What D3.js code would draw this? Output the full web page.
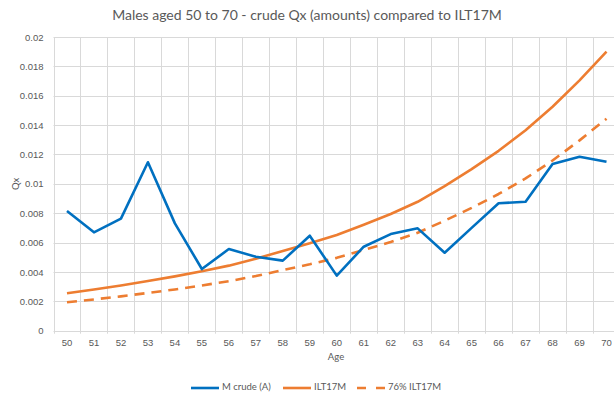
<!DOCTYPE html>
<html>
<head>
<meta charset="utf-8">
<script src="https://cdn.jsdelivr.net/npm/d3@7"></script>
<style>
  html, body { margin: 0; padding: 0; background: #fff; }
  svg { display: block; font-family: Lato, "Open Sans", sans-serif; }
</style>
</head>
<body>
<svg id="chart" width="614" height="398"></svg>
<script>
// Ages on the category axis
const ages = [50, 51, 52, 53, 54, 55, 56, 57, 58, 59, 60, 61, 62, 63, 64, 65, 66, 67, 68, 69, 70];

// Crude mortality rates by amounts
const crudeQx = [0.00815, 0.00670, 0.00763, 0.01147, 0.00731, 0.00420, 0.00556, 0.00504, 0.00477, 0.00647,
                 0.00375, 0.00572, 0.00658, 0.00697, 0.00531, 0.00700, 0.00868, 0.00878, 0.01135, 0.01185, 0.01150];

// ILT17M table rates
const ilt17m = [0.00255, 0.00280, 0.00308, 0.00338, 0.00370, 0.00405, 0.00443, 0.00490, 0.00543, 0.00595,
                0.00652, 0.00722, 0.00795, 0.00878, 0.00985, 0.01100, 0.01225, 0.01365, 0.01525, 0.01705, 0.01900];

// 76% of ILT17M
const ilt17m76 = [0.00194, 0.00213, 0.00234, 0.00257, 0.00281, 0.00308, 0.00337, 0.00372, 0.00413, 0.00452,
                  0.00496, 0.00549, 0.00604, 0.00667, 0.00749, 0.00836, 0.00931, 0.01037, 0.01159, 0.01296, 0.01444];

const yTicks = [0, 0.002, 0.004, 0.006, 0.008, 0.01, 0.012, 0.014, 0.016, 0.018, 0.02];
const yTickLabels = ["0", "0.002", "0.004", "0.006", "0.008", "0.01", "0.012", "0.014", "0.016", "0.018", "0.02"];

const seriesNames = ["M crude (A)", "ILT17M", "76% ILT17M"];

const svg = d3.select("#chart");
const plot = { left: 53.5, right: 620, top: 37, bottom: 330.7 };

const x = d3.scaleBand().domain(ages).range([plot.left, plot.right]).padding(0);
const y = d3.scaleLinear().domain([0, 0.02]).range([plot.bottom, plot.top]);

const grid = "#d9d9d9";
const textCol = "#595959";

// Horizontal gridlines
svg.append("g")
  .selectAll("line")
  .data(yTicks)
  .join("line")
  .attr("x1", plot.left).attr("x2", plot.right)
  .attr("y1", d => Math.round(y(d)) + 0.5).attr("y2", d => Math.round(y(d)) + 0.5)
  .attr("stroke", grid).attr("stroke-width", 1);

// Vertical gridlines at category boundaries
const bounds = ages.map(a => x(a)).concat([x(ages[ages.length - 1]) + x.bandwidth()]);
svg.append("g")
  .selectAll("line")
  .data(bounds)
  .join("line")
  .attr("x1", d => Math.round(d) + 0.5).attr("x2", d => Math.round(d) + 0.5)
  .attr("y1", plot.top).attr("y2", plot.bottom + 3)
  .attr("stroke", grid).attr("stroke-width", 1);

// Y axis labels
const yAxis = d3.axisLeft(y).tickValues(yTicks)
  .tickFormat((d, i) => yTickLabels[i]).tickSize(0).tickPadding(10);
const yg = svg.append("g").attr("transform", `translate(${plot.left},0)`).call(yAxis);
yg.select(".domain").remove();
yg.selectAll("text").attr("fill", textCol).style("font-size", "9.5px");

// X axis labels
const xAxis = d3.axisBottom(x).tickSize(0).tickPadding(9);
const xg = svg.append("g").attr("transform", `translate(0,${plot.bottom})`).call(xAxis);
xg.select(".domain").remove();
xg.selectAll("text").attr("fill", textCol).style("font-size", "9.5px");

// Axis titles
svg.append("text")
  .attr("transform", `translate(17,${(plot.top + plot.bottom) / 2}) rotate(-90)`)
  .attr("text-anchor", "middle").attr("dominant-baseline", "middle")
  .attr("fill", textCol).style("font-size", "9.5px").text("Qx");
svg.append("text")
  .attr("x", 336).attr("y", 360)
  .attr("text-anchor", "middle")
  .attr("fill", textCol).style("font-size", "9.5px").text("Age");

// Title
svg.append("text")
  .attr("x", 307).attr("y", 20)
  .attr("text-anchor", "middle")
  .attr("fill", textCol).style("font-size", "14px").text("Males aged 50 to 70 - crude Qx (amounts) compared to ILT17M");

const line = d3.line()
  .x((d, i) => x(ages[i]) + x.bandwidth() / 2)
  .y(d => y(d));

const series = [
  { values: ilt17m76, color: "#ED7D31", dash: "10,7" },
  { values: ilt17m, color: "#ED7D31", dash: null },
  { values: crudeQx, color: "#0070C0", dash: null }
];

svg.append("g")
  .selectAll("path")
  .data(series)
  .join("path")
  .attr("d", d => line(d.values))
  .attr("fill", "none")
  .attr("stroke", d => d.color)
  .attr("stroke-width", 2.6)
  .attr("stroke-linejoin", "round")
  .attr("stroke-dasharray", d => d.dash);

// Legend
const legendItems = [
  { name: seriesNames[0], color: "#0070C0", dash: null, x: 191 },
  { name: seriesNames[1], color: "#ED7D31", dash: null, x: 283 },
  { name: seriesNames[2], color: "#ED7D31", dash: "9,10", x: 357 }
];
const lg = svg.append("g").selectAll("g").data(legendItems).join("g")
  .attr("transform", d => `translate(${d.x},388)`);
lg.append("line")
  .attr("x1", 0).attr("x2", 28).attr("y1", 0).attr("y2", 0)
  .attr("stroke", d => d.color).attr("stroke-width", 2.6)
  .attr("stroke-dasharray", d => d.dash);
lg.append("text")
  .attr("x", 31).attr("y", 0).attr("dominant-baseline", "middle")
  .attr("fill", textCol).style("font-size", "9.5px").text(d => d.name);
</script>
</body>
</html>
